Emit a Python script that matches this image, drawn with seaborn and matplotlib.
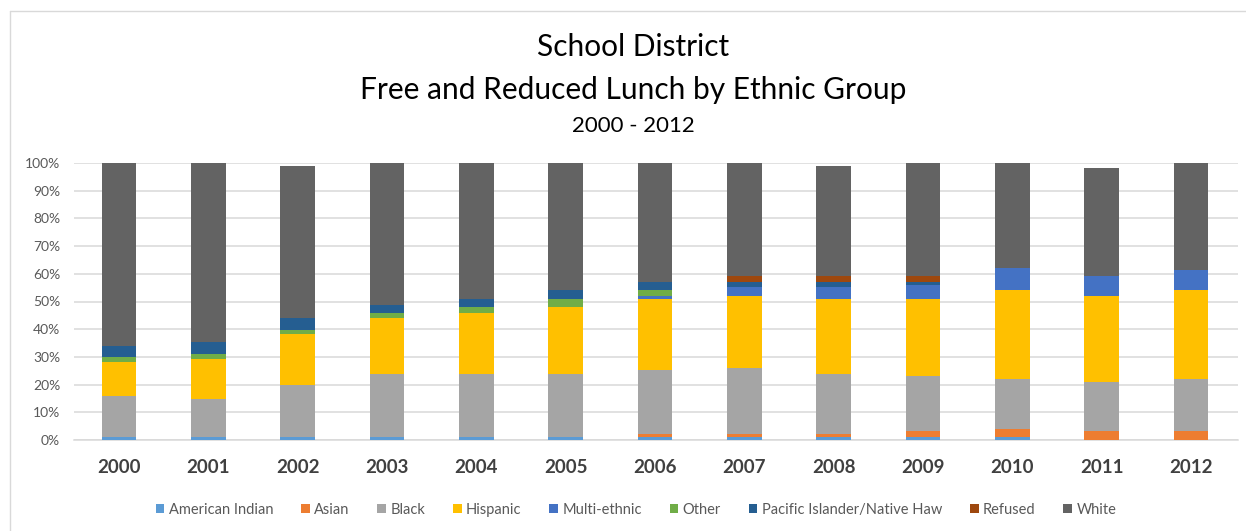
import matplotlib
matplotlib.use("Agg")
import matplotlib.pyplot as plt
from matplotlib.lines import Line2D
from matplotlib.ticker import PercentFormatter, MultipleLocator
import seaborn as sns
import numpy as np

years = ["2000", "2001", "2002", "2003", "2004", "2005", "2006",
         "2007", "2008", "2009", "2010", "2011", "2012"]
american_indian = [1.2, 1.2, 1.2, 1.2, 1.2, 1.2, 1.2, 1.2, 1.2, 1.2, 1.2, 0, 0]
asian = [0, 0, 0, 0, 0, 0, 0.8, 0.8, 0.8, 1.9, 2.9, 3.1, 3.1]
black = [14.7, 13.7, 18.8, 22.8, 22.8, 22.8, 23.1, 24.1, 22.0, 19.9, 17.9, 17.8, 18.9]
hispanic = [12.2, 14.2, 18.2, 19.9, 21.9, 24.0, 25.9, 25.8, 27.0, 28.0, 32.0, 31.0, 32.0]
multi_ethnic = [0, 0, 0, 0, 0, 0, 0.9, 3.3, 4.2, 5.1, 8.1, 7.2, 7.2]
other = [1.9, 2.0, 1.6, 2.0, 2.1, 3.0, 2.1, 0, 0, 0, 0, 0, 0]
pacific_islander = [4.1, 4.1, 4.1, 3.0, 3.0, 3.0, 3.1, 1.9, 1.9, 1.0, 0, 0, 0]
refused = [0, 0, 0, 0, 0, 0, 0, 2.0, 2.0, 2.0, 0, 0, 0]
white = [65.9, 64.8, 55.0, 51.1, 49.0, 46.0, 42.9, 40.9, 39.8, 40.9, 37.9, 39.2, 38.8]

series_names = ["American Indian", "Asian", "Black", "Hispanic", "Multi-ethnic",
                "Other", "Pacific Islander/Native Haw", "Refused", "White"]
series_values = [american_indian, asian, black, hispanic, multi_ethnic,
                 other, pacific_islander, refused, white]
colors = ["#5B9BD5", "#ED7D31", "#A5A5A5", "#FFC000", "#4472C4",
          "#70AD47", "#255E91", "#9E480E", "#636363"]

sns.set_theme(style="white")
plt.rcParams["font.family"] = ["Lato", "DejaVu Sans"]

fig = plt.figure(figsize=(12.46, 5.31), dpi=100)
ax = fig.add_axes([74 / 1246, 91 / 531, 1164 / 1246, 277 / 531])

bottom = np.zeros(len(years))
for name, vals, c in zip(series_names, series_values, colors):
    sns.barplot(x=years, y=vals, bottom=bottom, color=c, width=0.39,
                label=name, ax=ax, zorder=3, linewidth=0, saturation=1)
    bottom = bottom + np.array(vals)

ax.set_xlim(-0.504, 12.526)
ax.set_ylim(0, 100)
ax.yaxis.set_major_locator(MultipleLocator(10))
ax.yaxis.set_major_formatter(PercentFormatter(100, decimals=0))
ax.grid(axis="y", color="#D9D9D9", linewidth=1.1, zorder=0)
ax.grid(axis="x", visible=False)
for s in ["top", "right", "left"]:
    ax.spines[s].set_visible(False)
ax.spines["bottom"].set_color("#D9D9D9")
ax.spines["bottom"].set_linewidth(1.1)
ax.tick_params(axis="y", length=0, labelsize=10, labelcolor="#595959", pad=10)
ax.tick_params(axis="x", length=0, labelsize=13.5, labelcolor="#404040", pad=14)
for lbl in ax.get_xticklabels():
    lbl.set_fontweight("bold")
ax.set_xlabel("")
ax.set_ylabel("")

handles, labels = ax.get_legend_handles_labels()
fig.legend(handles, labels, loc="center", bbox_to_anchor=(636 / 1246, 1 - 510 / 531),
           ncol=9, frameon=False, fontsize=10.5, labelcolor="#595959",
           handlelength=0.6, handleheight=0.6, handletextpad=0.3, columnspacing=1.9)
if ax.get_legend() is not None:
    ax.get_legend().remove()

fig.text(633 / 1246, 1 - 47 / 531, "School District", ha="center", va="center",
         fontsize=21.5, color="#000000")
fig.text(633 / 1246, 1 - 90 / 531, "Free and Reduced Lunch by Ethnic Group", ha="center",
         va="center", fontsize=21.5, color="#000000")
fig.text(633 / 1246, 1 - 126 / 531, "2000 - 2012", ha="center", va="center",
         fontsize=16, color="#000000")

fig.add_artist(Line2D([9.5 / 1246, 9.5 / 1246], [0, 1 - 11 / 531],
                      transform=fig.transFigure, color="#D9D9D9", linewidth=1))
fig.add_artist(Line2D([9.5 / 1246, 1], [1 - 11 / 531, 1 - 11 / 531],
                      transform=fig.transFigure, color="#D9D9D9", linewidth=1))

fig.savefig("out.png", dpi=100, facecolor="white")
